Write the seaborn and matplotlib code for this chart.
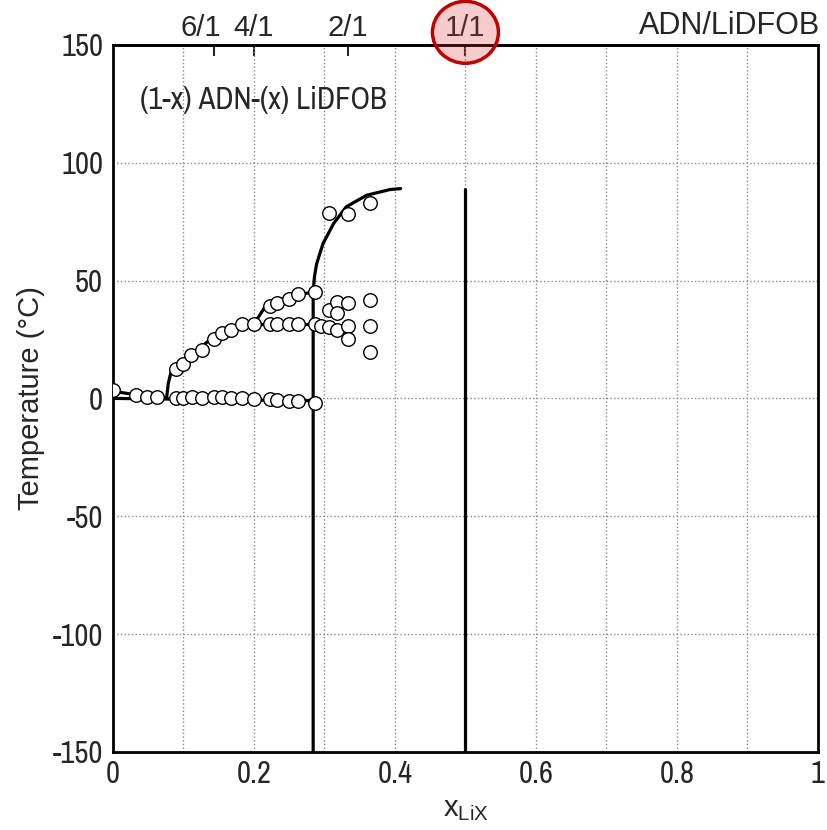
import numpy as np
import matplotlib
matplotlib.use('Agg')
import matplotlib.pyplot as plt
from matplotlib.patches import Ellipse
from matplotlib.transforms import ScaledTranslation
import seaborn as sns

# measured points (x_LiX, temperature in C)
eut_x = [0.0, 0.032, 0.048, 0.063, 0.089, 0.100, 0.112, 0.126, 0.143, 0.154,
         0.167, 0.183, 0.200, 0.223, 0.232, 0.250, 0.263, 0.287]
eut_t = [3.5, 1.4, 0.6, 0.6, 0.3, 0.3, 0.7, 0.3, 0.7, 0.7,
         0.0, 0.3, -0.2, -0.2, -0.5, -1.0, -1.0, -2.0]
liq_x = [0.090, 0.100, 0.110, 0.126, 0.143, 0.154, 0.167, 0.183, 0.200]
liq_t = [12.3, 14.7, 18.5, 20.5, 25.3, 27.6, 29.2, 31.5, 31.5]
per_x = [0.223, 0.232, 0.250, 0.263, 0.287, 0.295, 0.307, 0.318, 0.334, 0.365]
per_t = [31.5, 31.5, 31.5, 31.5, 31.5, 30.8, 30.4, 29.2, 30.8, 30.8]
up_x = [0.223, 0.232, 0.250, 0.263, 0.287]
up_t = [39.0, 40.3, 42.0, 44.2, 45.1]
right_x = [0.307, 0.318, 0.318, 0.334, 0.334, 0.365, 0.365]
right_t = [37.4, 40.9, 36.3, 40.5, 25.3, 41.7, 19.8]
high_x = [0.307, 0.334, 0.365]
high_t = [78.8, 78.2, 83.0]

# phase boundary lines
adn_x = [0.0, 0.032, 0.063, 0.077]
adn_t = [3.0, 1.6, 0.8, 0.0]
eline_x = [0.0, 0.287]
eline_t = [0.0, -1.0]
liq1_x = [0.076, 0.0785, 0.083, 0.095, 0.123, 0.142, 0.166, 0.200]
liq1_t = [0.0, 6.4, 12.0, 15.5, 21.2, 26.1, 29.0, 31.5]
pline_x = [0.200, 0.287]
pline_t = [31.5, 31.5]
liq2_x = [0.200, 0.211, 0.219, 0.251, 0.284]
liq2_t = [31.5, 36.7, 40.3, 43.1, 45.2]
comp_x = [0.284, 0.284, 0.286, 0.289, 0.298, 0.313, 0.331, 0.360, 0.393, 0.408]
comp_t = [-150, 45.5, 52.0, 57.2, 65.7, 74.2, 81.3, 86.2, 88.6, 89.0]
v11_x = [0.5, 0.5]
v11_t = [-150, 89]

top_pos = [1 / 7, 0.2, 1 / 3, 0.5]
top_labels = ['6/1', '4/1', '2/1', '1/1']

sns.set_style('white')
plt.rcParams['font.family'] = ['Liberation Sans', 'DejaVu Sans']
plt.rcParams['mathtext.default'] = 'regular'
plt.rcParams['axes.unicode_minus'] = False
narrow = ['Archivo Narrow', 'Liberation Sans']

fig = plt.figure(figsize=(8.27, 8.30), dpi=100)
ax = fig.add_axes([0.1366, 0.094, 0.8524, 0.852])

for lx, lt in [(adn_x, adn_t), (eline_x, eline_t), (liq1_x, liq1_t), (pline_x, pline_t),
               (liq2_x, liq2_t), (comp_x, comp_t), (v11_x, v11_t)]:
    sns.lineplot(x=lx, y=lt, sort=False, estimator=None, color='black', lw=2.3, ax=ax, zorder=3)

pts_x = eut_x + liq_x + per_x + up_x + right_x + high_x
pts_t = eut_t + liq_t + per_t + up_t + right_t + high_t
sns.scatterplot(x=pts_x, y=pts_t, marker='o', s=95, facecolor='white',
                edgecolor='black', linewidth=1.0, ax=ax, zorder=4)

ax.set_xlim(0, 1)
ax.set_ylim(-150, 150)
xt = np.round(np.arange(0, 1.01, 0.1), 1)
ax.set_xticks(xt, labels=['0' if v == 0 else '1' if v == 1 else (f'{v:g}' if i % 2 == 0 else '')
                          for i, v in enumerate(xt)])
ax.set_yticks(np.arange(-150, 151, 50))
ax.tick_params(axis='x', direction='in', length=9, width=1.3, pad=6, labelsize=22, top=False)
ax.tick_params(axis='y', direction='in', length=0, pad=7, labelsize=22)
for lab in ax.get_xticklabels() + ax.get_yticklabels():
    lab.set_family(narrow)
ax.grid(True, linestyle=':', color='#888888', lw=1.0)
for s in ax.spines.values():
    s.set_linewidth(2.0)
    s.set_color('black')

ax.set_xlabel(r'x$_{LiX}$', fontsize=21, labelpad=5)
ax.set_ylabel('Temperature (°C)', fontsize=21, labelpad=6)

secax = ax.secondary_xaxis('top')
secax.set_xticks(top_pos, labels=top_labels)
secax.tick_params(direction='in', length=8, width=1.5, pad=2, labelsize=21)
secax.spines['top'].set_linewidth(2.0)
lab6 = secax.get_xticklabels()[0]
lab6.set_transform(lab6.get_transform() + ScaledTranslation(-0.13, 0, fig.dpi_scale_trans))

ax.text(1.003, 1.006, 'ADN/LiDFOB', transform=ax.transAxes, ha='right', va='bottom', fontsize=22)
ax.text(0.038, 126.5, '(1-x) ADN-(x) LiDFOB', ha='left', va='center', fontsize=22, family=narrow)

circ = Ellipse((0.5, 1.0177), 0.0936, 0.0876, transform=ax.transAxes, clip_on=False,
               facecolor=(0.85, 0.2, 0.2, 0.25), edgecolor='#c00000', lw=2.5, zorder=5)
ax.add_patch(circ)

fig.savefig('out.png', dpi=100)
